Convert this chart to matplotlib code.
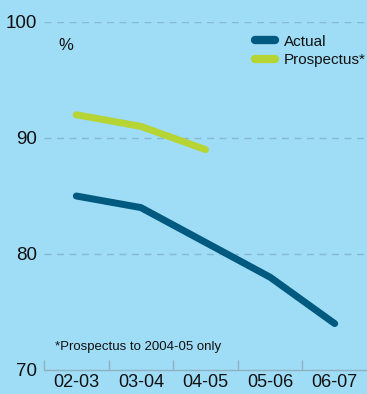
import numpy as np
import matplotlib.pyplot as plt
from matplotlib import font_manager

years = ["02-03", "03-04", "04-05", "05-06", "06-07"]
actual = [85, 84, 81, 78, 74]
prospectus = [92, 91, 89]
yticks = [70, 80, 90, 100]

bg = "#9fdcf6"
c_actual = "#00597f"
c_prosp = "#b6d433"
grid_c = "#86b9d2"
axis_c = "#8fb0c0"

names = {f.name for f in font_manager.fontManager.ttflist}
fam = [n for n in ["Liberation Sans Narrow", "Liberation Sans", "DejaVu Sans"] if n in names]
plt.rcParams["font.family"] = fam

fig = plt.figure(figsize=(3.67, 3.94), dpi=100, facecolor=bg)
ax = fig.add_axes([44 / 367, 24 / 394, 1 - 44 / 367, 348 / 394])
ax.set_facecolor(bg)

x = np.arange(len(years))
ax.plot(x, actual, color=c_actual, lw=5, solid_capstyle="round", label="Actual", zorder=3)
ax.plot(x[:len(prospectus)], prospectus, color=c_prosp, lw=5, solid_capstyle="round",
        label="Prospectus*", zorder=3)

ax.set_xlim(-0.5, len(years) - 0.5)
ax.set_ylim(70, 100)
for v in yticks[1:]:
    ax.axhline(v, color=grid_c, lw=1, ls=(0, (5, 4)), zorder=1)

for s in ["top", "right", "left"]:
    ax.spines[s].set_visible(False)
ax.spines["bottom"].set_color(axis_c)
ax.spines["bottom"].set_linewidth(1)

ax.set_yticks(yticks)
ax.set_yticklabels([str(v) for v in yticks], fontsize=13.5, color="#111111")
ax.tick_params(axis="y", length=0, pad=5)

ax.set_xticks(x)
ax.set_xticklabels(years, fontsize=13, color="#111111")
ax.tick_params(axis="x", which="major", length=0, pad=3)
ax.set_xticks(np.arange(-0.5, len(years) - 1, 1.0), minor=True)
ax.tick_params(axis="x", which="minor", direction="in", length=7, width=1, color=axis_c)

ax.text(0.045, 0.955, "%", transform=ax.transAxes, fontsize=12, va="top", color="#111111")
ax.text(0.035, 0.065, "*Prospectus to 2004-05 only", transform=ax.transAxes, fontsize=9.5,
        va="center", color="#111111")

leg = ax.legend(loc="upper right", bbox_to_anchor=(1.025, 0.99), frameon=False, fontsize=11,
                handlelength=1.3, handletextpad=0.6, labelspacing=0.3, borderaxespad=0.2)
for h in leg.get_lines():
    h.set_linewidth(6)
    h.set_solid_capstyle("round")
for t in leg.get_texts():
    t.set_color("#111111")

fig.savefig("out.png", dpi=100, facecolor=bg)
